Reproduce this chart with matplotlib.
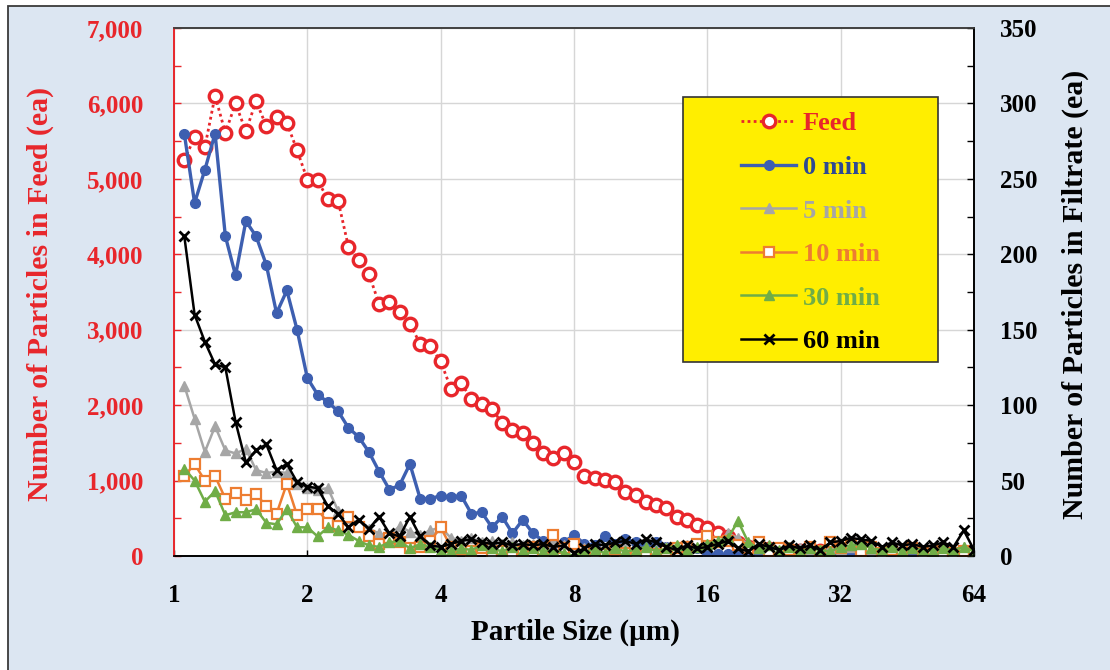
import matplotlib
matplotlib.use('Agg')
import matplotlib.pyplot as plt
from matplotlib.patches import Rectangle
from matplotlib.ticker import MultipleLocator, FuncFormatter, NullLocator, FixedLocator

plt.rcParams['font.family'] = ['Liberation Serif', 'DejaVu Serif']
plt.rcParams['font.weight'] = 'bold'
plt.rcParams['axes.labelweight'] = 'bold'

# ---------------- data ----------------
sizes = [1.055, 1.113, 1.174, 1.238, 1.306, 1.377, 1.453, 1.532, 1.616, 1.704, 1.798, 1.896, 2.000,
         2.110, 2.225, 2.347, 2.476, 2.611, 2.754, 2.905, 3.064, 3.232, 3.409, 3.596, 3.793, 4.000,
         4.219, 4.450, 4.694, 4.951, 5.222, 5.508, 5.810, 6.128, 6.464, 6.818, 7.191, 7.585, 8.000,
         8.438, 8.900, 9.388, 9.902, 10.44, 11.02, 11.62, 12.26, 12.93, 13.64, 14.38, 15.17, 16.00,
         16.88, 17.80, 18.78, 19.80, 20.89, 22.03, 23.24, 24.51, 25.85, 27.27, 28.77, 30.34, 32.00,
         33.75, 35.60, 37.55, 39.61, 41.78, 44.07, 46.48, 49.03, 51.71, 54.55, 57.53, 60.69, 64.00]

feed = [5250, 5550, 5420, 6100, 5610, 6000, 5630, 6030, 5700, 5820, 5740, 5380, 4990,
        4980, 4730, 4710, 4100, 3930, 3740, 3340, 3370, 3240, 3080, 2810, 2780, 2580,
        2220, 2290, 2080, 2020, 1950, 1760, 1670, 1630, 1500, 1370, 1300, 1370, 1250,
        1060, 1040, 1010, 985, 850, 810, 720, 680, 630, 520, 480, 410, 370, 310,
        250, 170, 120, 100, 90, 80, 80, 70, 60, 60, 50, 50, 40, 50, 40, 30, 30,
        20, 20, 20, 10, 10, 10, 10, 10]

min0 = [280, 234, 256, 280, 212, 186, 222, 212, 193, 161, 176, 150, 118,
        107, 102, 96, 85, 79, 69, 56, 44, 47, 61, 38, 38, 40,
        39, 40, 28, 29, 19, 26, 15, 24, 15, 10, 8, 9, 14,
        8, 7, 13, 8, 11, 9, 7, 9, 6, 5, 4, 5, 2,
        1, 1, 2, 3, 2, 1, 2, 1, 2, 3, 2, 1, 2,
        1, 2, 3, 2, 1, 2, 1, 2, 1, 1, 0, 2, 1]

min5 = [113, 91, 69, 86, 70, 68, 71, 57, 55, 56, 55, 48, 45,
        44, 45, 30, 25, 21, 18, 15, 13, 20, 16, 14, 17, 19,
        12, 10, 12, 9, 10, 8, 9, 7, 8, 6, 9, 7, 6,
        5, 6, 4, 6, 5, 3, 5, 4, 6, 5, 7, 6, 8,
        9, 15, 12, 8, 5, 4, 6, 3, 5, 4, 3, 5, 4,
        6, 5, 4, 3, 5, 4, 6, 3, 4, 5, 3, 6, 4]

min10 = [53, 61, 50, 53, 38, 42, 37, 41, 33, 28, 48, 27, 31,
         31, 22, 20, 26, 19, 13, 8, 12, 9, 5, 6, 10, 19,
         6, 4, 3, 5, 2, 3, 1, 3, 6, 4, 14, 5, 8,
         3, 2, 1, 4, 2, 0, 2, 1, 3, 5, 6, 8, 13,
         9, 10, 7, 5, 9, 3, 5, 4, 2, 6, 3, 9, 5,
         7, 3, 6, 2, 4, 1, 5, 2, 3, 1, 2, 3, 1]

min30 = [58, 50, 36, 43, 27, 29, 29, 31, 22, 21, 31, 19, 19,
         13, 19, 17, 14, 10, 7, 6, 9, 10, 5, 8, 6, 4,
         3, 5, 4, 7, 5, 3, 6, 4, 5, 3, 4, 2, 0,
         3, 4, 2, 5, 3, 4, 6, 3, 5, 7, 4, 6, 8,
         10, 12, 23, 9, 5, 7, 4, 6, 3, 5, 4, 3, 6,
         7, 8, 5, 4, 6, 3, 5, 4, 3, 5, 4, 6, 3]

min60 = [212, 160, 142, 127, 125, 89, 62, 70, 74, 57, 61, 49, 46,
         45, 33, 28, 19, 24, 18, 26, 15, 13, 26, 13, 7, 6,
         8, 10, 11, 9, 8, 9, 7, 8, 7, 8, 6, 7, 2,
         5, 8, 7, 9, 10, 8, 11, 9, 6, 4, 7, 5, 6,
         8, 10, 5, 3, 8, 6, 4, 7, 5, 7, 4, 9, 10,
         12, 11, 10, 6, 9, 7, 8, 6, 7, 9, 6, 17, 4]

x_ticks = [1, 2, 4, 8, 16, 32, 64]
labels = ['Feed', '0 min', '5 min', '10 min', '30 min', '60 min']

RED = '#e8262b'
BLUE = '#3d5fb0'
GRAY = '#a6a6a6'
ORANGE = '#ed7d31'
GREEN = '#70ad47'
BLACK = '#000000'

W, H = 1110, 670
fig = plt.figure(figsize=(W / 100, H / 100), dpi=100)
fig.patch.set_facecolor('white')
fig.add_artist(Rectangle((8 / W, -0.1), 1.2, 1.1 - 6 / H, transform=fig.transFigure,
                         facecolor='#dce6f2', edgecolor='#3a3a3a', lw=1.3, zorder=-10))

L, R, T, B = 174, 974, 28, 556
ax1 = fig.add_axes([L / W, 1 - B / H, (R - L) / W, (B - T) / H])
ax1.set_xscale('log', base=2)
ax1.set_xlim(1, 64)
ax1.set_ylim(0, 7000)
ax1.set_facecolor('white')
ax2 = ax1.twinx()
ax2.set_ylim(0, 350)
ax2.patch.set_visible(False)

ax1.xaxis.set_major_locator(FixedLocator(x_ticks))
ax1.xaxis.set_minor_locator(NullLocator())
ax1.xaxis.set_major_formatter(FuncFormatter(lambda v, p: f'{int(round(v))}'))
ax1.yaxis.set_major_locator(MultipleLocator(1000))
ax1.yaxis.set_minor_locator(MultipleLocator(500))
ax1.yaxis.set_major_formatter(FuncFormatter(lambda v, p: f'{int(v):,}'))
ax2.yaxis.set_major_locator(MultipleLocator(50))
ax2.yaxis.set_minor_locator(MultipleLocator(25))

ax1.grid(True, which='major', color='#d6d6d6', lw=1.0)
ax1.set_axisbelow(True)

ax1.tick_params(axis='x', which='major', direction='in', length=4, width=1,
                pad=20, labelsize=18, colors=BLACK)
ax1.tick_params(axis='y', which='both', direction='in', length=5, width=1,
                pad=22, labelsize=18, colors=RED)
ax2.tick_params(axis='y', which='both', direction='in', length=5, width=1,
                pad=19, labelsize=18, colors=BLACK)

for ax in (ax1, ax2):
    ax.spines['left'].set_color(RED)
    ax.spines['right'].set_color(BLACK)
    ax.spines['top'].set_color('#404040')
    ax.spines['bottom'].set_color(BLACK)
    for s in ax.spines.values():
        s.set_linewidth(1.2)

h_feed, = ax1.plot(sizes, feed, linestyle=(0, (1, 1.2)), color=RED, lw=2.0,
                   marker='o', markersize=9, markerfacecolor='white',
                   markeredgecolor=RED, markeredgewidth=2.4, label=labels[0])
h0, = ax2.plot(sizes, min0, color=BLUE, lw=2.4, marker='o', markersize=7,
               markerfacecolor=BLUE, markeredgecolor=BLUE, label=labels[1])
h5, = ax2.plot(sizes, min5, color=GRAY, lw=1.8, marker='^', markersize=7.5,
               markerfacecolor=GRAY, markeredgecolor=GRAY, label=labels[2])
h10, = ax2.plot(sizes, min10, color=ORANGE, lw=1.8, marker='s', markersize=7.5,
                markerfacecolor='white', markeredgecolor=ORANGE, markeredgewidth=1.6,
                label=labels[3])
h30, = ax2.plot(sizes, min30, color=GREEN, lw=1.8, marker='^', markersize=6.5,
                markerfacecolor=GREEN, markeredgecolor=GREEN, label=labels[4])
h60, = ax2.plot(sizes, min60, color=BLACK, lw=1.8, marker='x', markersize=7,
                markeredgewidth=2.0, label=labels[5])

# legend box
lx0, ly0 = (683 - L) / (R - L), (B - 362) / (B - T)
lw_, lh_ = (938 - 683) / (R - L), (362 - 97) / (B - T)
ax2.add_patch(Rectangle((lx0, ly0), lw_, lh_, transform=ax2.transAxes,
                        facecolor='#ffee00', edgecolor='#333333', lw=1.2, zorder=8))
leg = ax2.legend(handles=[h_feed, h0, h5, h10, h30, h60],
                 loc='upper left', bbox_to_anchor=((741 - L) / (R - L), (B - 112) / (B - T)),
                 frameon=False, borderpad=0, borderaxespad=0,
                 handlelength=2.1, handletextpad=0.25, labelspacing=0.76,
                 prop={'family': 'Liberation Serif', 'weight': 'bold', 'size': 19})
leg.set_zorder(9)
for t, c in zip(leg.get_texts(), [RED, '#2e4a94', GRAY, ORANGE, GREEN, BLACK]):
    t.set_color(c)

# axis labels
fig.text(40 / W, 1 - 294 / H, 'Number of Particles in Feed (ea)', rotation=90,
         ha='center', va='center', color=RED, fontsize=21.5, fontweight='bold')
fig.text(1075 / W, 1 - 294 / H, 'Number of Particles in Filtrate (ea)', rotation=90,
         ha='center', va='center', color=BLACK, fontsize=21.5, fontweight='bold')
fig.text(575 / W, 1 - 632 / H, 'Partile Size (\u00b5m)', ha='center', va='center',
         color=BLACK, fontsize=21, fontweight='bold')

fig.savefig('out.png', dpi=100, facecolor=fig.get_facecolor())
